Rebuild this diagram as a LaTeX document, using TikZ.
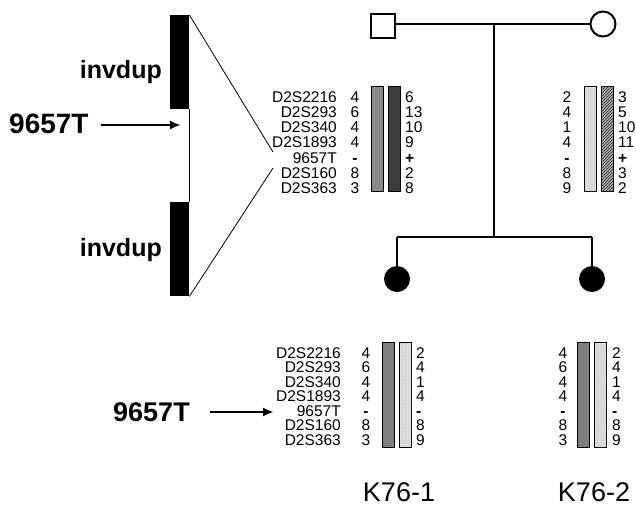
\documentclass[tikz,border=0pt]{standalone}
\usepackage{fontspec}
\setmainfont{Liberation Sans}
\usetikzlibrary{arrows.meta,patterns}
\definecolor{midgray}{HTML}{8A8A8A}
\definecolor{darkgray2}{HTML}{3C3C3C}
\definecolor{lightgray2}{HTML}{DCDCDC}
\definecolor{hatchgray}{HTML}{A8A8A8}
\definecolor{kidgray}{HTML}{7E7E7E}
\begin{document}
\begin{tikzpicture}[x=1pt,y=-1pt,
  mk/.style={font=\fontsize{15.5}{15.5}\selectfont, inner sep=0pt, text height=11pt, text depth=0pt},
  big/.style={font=\bfseries\fontsize{#1}{#1}\selectfont, inner sep=0pt},
  ped/.style={line width=2pt},
  chr/.style={fill=black, draw=none, minimum width=19pt, minimum height=94pt, inner sep=0pt, anchor=north west},
  hbar/.style={draw=black, line width=1.2pt, minimum width=12pt, inner sep=0pt, anchor=north west},
  graybar/.style={hbar, fill=midgray},
  darkbar/.style={hbar, fill=darkgray2},
  lightbar/.style={hbar, fill=lightgray2, postaction={pattern=dots, pattern color=gray!60}},
  hatchbar/.style={hbar, fill=hatchgray, postaction={pattern=north east lines, pattern color=gray!40!black}},
  kidbar/.style={hbar, fill=kidgray},
  arr/.style={line width=2.4pt, -{Latex[length=11pt,width=9pt]}},
  thin/.style={line width=0.8pt}
]
\useasboundingbox (0,0) rectangle (636,506);

% ---------- left chromosome ----------
\node[chr] (topbar) at (170,15) {};
\node[chr] (botbar) at (170,202) {};
\draw[thin] (topbar.south east) -- (botbar.north east);
\coordinate (p1) at (273,152);
\coordinate (p2) at (273,168);
\draw[thin] (topbar.north east) -- (p1);
\draw[thin] (botbar.south east) -- (p2);
\node[big=25, anchor=east] (inv1) at (162,72) {invdup};
\node[big=25, anchor=east] (inv2) at (162,250) {invdup};
\node[big=28, anchor=west] (lab1) at (9,124) {9657T};
\coordinate (a1) at (181,125);
\draw[arr, shorten <=12pt] (lab1.east |- a1) -- (a1);

% ---------- pedigree ----------
\node[draw, ped, minimum size=24pt, inner sep=0pt] (father) at (383,26) {};
\node[draw, ped, circle, minimum size=25pt, inner sep=0pt] (mother) at (603,24) {};
\draw[ped] (father.east |- mother.west) -- (mother.west);
\coordinate (m) at (494,24);
\coordinate (s) at (494,237);
\draw[ped] (m) -- (s);
\node[circle, fill=black, minimum size=26pt, inner sep=0pt] (kid1) at (397,279) {};
\node[circle, fill=black, minimum size=26pt, inner sep=0pt] (kid2) at (592,279) {};
\coordinate (s1) at (397,237);
\coordinate (s2) at (592,237);
\draw[ped] (s1) -- (s2);
\draw[ped] (s1) -- (kid1.north);
\draw[ped] (s2) -- (kid2.north);

% ---------- father haplotype ----------
\node[graybar, minimum height=105pt] (fb1) at (371,86) {};
\node[darkbar, minimum height=105pt] (fb2) at (388,86) {};
\foreach \n/\a/\b [count=\i from 0] in {D2S2216/4/6, D2S293/6/13, D2S340/4/10, D2S1893/4/9, 9657T/\textbf{-}/\textbf{+}, D2S160/8/2, D2S363/3/8}{
  \node[mk, anchor=east] (fn\i) at (337,96.5+15.25*\i) {\n};
  \node[mk] (fa\i) at (355,96.5+15.25*\i) {\a};
  \node[mk, anchor=west] (fr\i) at (405,96.5+15.25*\i) {\b};
}

% ---------- mother haplotype ----------
\node[lightbar, minimum height=105pt] (mb1) at (584,86) {};
\node[hatchbar, minimum height=105pt] (mb2) at (601,86) {};
\foreach \a/\b [count=\i from 0] in {2/3, 4/5, 1/10, 4/11, \textbf{-}/\textbf{+}, 8/3, 9/2}{
  \node[mk] (ma\i) at (567,96.5+15.25*\i) {\a};
  \node[mk, anchor=west] (mr\i) at (618,96.5+15.25*\i) {\b};
}

% ---------- K76-1 ----------
\node[kidbar, minimum height=105pt] (k1b1) at (382,342) {};
\node[lightbar, minimum height=105pt] (k1b2) at (399,342) {};
\foreach \n/\a/\b [count=\i from 0] in {D2S2216/4/2, D2S293/6/4, D2S340/4/1, D2S1893/4/4, 9657T/\textbf{-}/\textbf{-}, D2S160/8/8, D2S363/3/9}{
  \node[mk, anchor=east] (kn\i) at (341,352.5+14.5*\i) {\n};
  \node[mk] (ka\i) at (366,352.5+14.5*\i) {\a};
  \node[mk, anchor=west] (kr\i) at (416,352.5+14.5*\i) {\b};
}
\node[big=27, anchor=west] (lab2) at (113,412) {9657T};
\coordinate (a2) at (274,412);
\draw[arr, shorten <=20pt] (lab2.east |- a2) -- (a2);
\node[font=\fontsize{27}{27}\selectfont, inner sep=0pt] (k1lab) at (399,492) {K76-1};

% ---------- K76-2 ----------
\node[kidbar, minimum height=105pt] (k2b1) at (577,342) {};
\node[lightbar, minimum height=105pt] (k2b2) at (594,342) {};
\foreach \a/\b [count=\i from 0] in {4/2, 6/4, 4/1, 4/4, \textbf{-}/\textbf{-}, 8/8, 3/9}{
  \node[mk] (qa\i) at (563,352.5+14.5*\i) {\a};
  \node[mk, anchor=west] (qr\i) at (612,352.5+14.5*\i) {\b};
}
\node[font=\fontsize{27}{27}\selectfont, inner sep=0pt] (k2lab) at (594,492) {K76-2};
\end{tikzpicture}
\end{document}
